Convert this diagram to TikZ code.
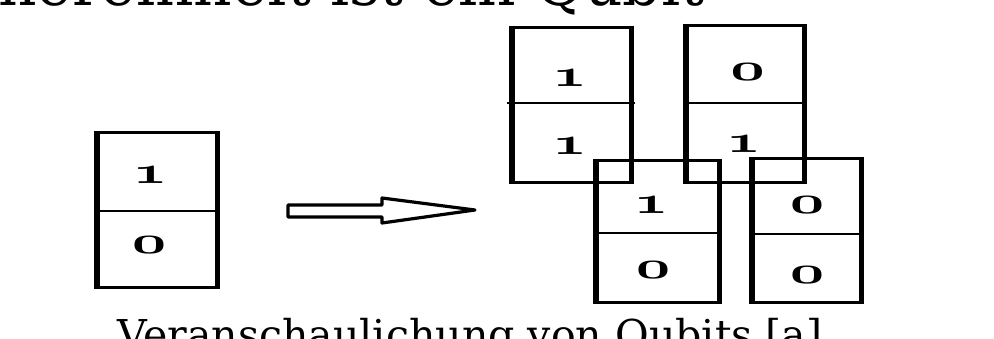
\documentclass[tikz,border=0pt]{standalone}
\usepackage{fontspec}
\usepackage{graphicx}
\newfontfamily\capfont{DejaVu Serif}
\newcommand\osdigit[1]{\scalebox{6.0}[3.8]{\usefont{OML}{cmm}{b}{it}#1}}
\begin{document}
\begin{tikzpicture}[x=1pt,y=-1pt,
  qframe/.style={draw=black, line width=3pt, inner sep=0pt},
  vedge/.style={line width=5.5pt},
  midline/.style={line width=2.6pt},
  digit/.style={inner sep=0pt, text=black},
  hollowarrow/.style={draw=black, line width=3.2pt, line join=round, fill=white},
  bigtext/.style={anchor=base west, inner sep=0pt, text=black}]
\useasboundingbox (0,0) rectangle (994,338);
\clip (0,0) rectangle (994,338);
\fill[white] (0,0) rectangle (994,338);

% texts
\node[bigtext] (title) at (-2,5) {\resizebox{706pt}{!}{\capfont hereinheit ist ein Qubit}};
\node[bigtext] (caption) at (117,349) {\resizebox{705pt}{!}{\capfont Veranschaulichung von Qubits [a]}};

% left qubit box
\node[qframe, minimum width=118pt, minimum height=155pt] (L) at (157,210) {};
\draw[vedge] (L.north west) -- (L.south west);
\draw[vedge] (L.north east) -- (L.south east);
\coordinate (Lm1) at ([yshift=-1pt]L.west);
\coordinate (Lm2) at ([yshift=-1pt]L.east);
\draw[midline] (Lm1) -- (Lm2);
\node[digit] (L1) at (150,175) {\osdigit{1}};
\node[digit] (L0) at (149,245) {\osdigit{0}};

% arrow
\draw[hollowarrow] (288,205) -- (382,205) -- (382,198) -- (475,210) -- (382,223) -- (382,217) -- (288,217) -- cycle;

% box A (1/1)
\node[qframe, minimum width=117pt, minimum height=155pt] (A) at (571.5,104.5) {};
\draw[vedge] (A.north west) -- (A.south west);
\draw[vedge] (A.north east) -- (A.south east);
\coordinate (Am1) at (507,103);
\coordinate (Am2) at (635,103);
\draw[midline] (Am1) -- (Am2);
\node[digit] (A1) at (569.5,78) {\osdigit{1}};
\node[digit] (A2) at (569.5,146) {\osdigit{1}};

% box B (0/1)
\node[qframe, minimum width=116pt, minimum height=157pt] (B) at (745,103.5) {};
\draw[vedge] (B.north west) -- (B.south west);
\draw[vedge] (B.north east) -- (B.south east);
\coordinate (Bm1) at (683,103);
\coordinate (Bm2) at (807,103);
\draw[midline] (Bm1) -- (Bm2);
\node[digit] (B1) at (747.5,72) {\osdigit{0}};
\node[digit] (B2) at (743.5,144.5) {\osdigit{1}};

% box C (1/0)
\node[qframe, minimum width=121pt, minimum height=142pt] (C) at (657.5,231) {};
\draw[vedge] (C.north west) -- (C.south west);
\draw[vedge] (C.north east) -- (C.south east);
\coordinate (Cm1) at (597,233);
\coordinate (Cm2) at (718,233);
\draw[midline] (Cm1) -- (Cm2);
\node[digit] (C1) at (651,205) {\osdigit{1}};
\node[digit] (C2) at (653,270) {\osdigit{0}};

% box D (0/0)
\node[qframe, minimum width=107pt, minimum height=144pt] (D) at (806.5,230) {};
\draw[vedge] (D.north west) -- (D.south west);
\draw[vedge] (D.north east) -- (D.south east);
\coordinate (Dm1) at (753,234);
\coordinate (Dm2) at (860,234);
\draw[midline] (Dm1) -- (Dm2);
\node[digit] (D1) at (807,205.5) {\osdigit{0}};
\node[digit] (D2) at (807,275) {\osdigit{0}};
\end{tikzpicture}
\end{document}
